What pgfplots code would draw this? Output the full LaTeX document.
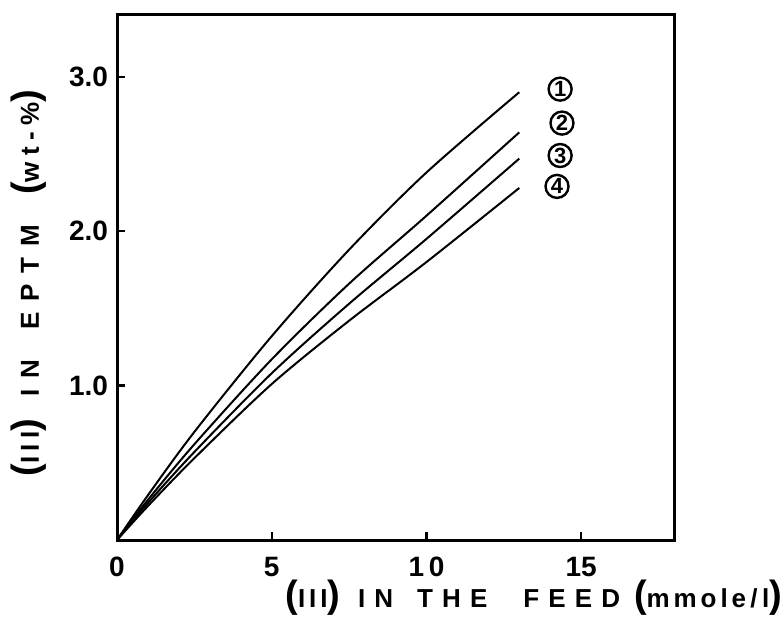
\documentclass[border=0pt]{standalone}
\usepackage{fontspec}
\setmainfont{Liberation Sans}
\usepackage{pgfplots}
\pgfplotsset{compat=1.18}
\begin{document}
\begin{tikzpicture}
\begin{axis}[
  scale only axis,
  width=278.5pt, height=262.5pt,
  xmin=0, xmax=18, ymin=0, ymax=3.4,
  axis line style={line width=1.5pt},
  xtick={0,5,10,15}, ytick={1,2,3},
  xticklabels={0,5,1\,0,15},
  yticklabels={1.0,2.0,3.0},
  tick align=inside,
  xtick pos=bottom, ytick pos=left,
  major tick length=4pt,
  tick style={line width=1.2pt, black},
  ticklabel style={font=\fontsize{14}{14}\selectfont\bfseries},
  xticklabel style={yshift=-5pt},
  yticklabel style={xshift=-1pt},
  xlabel={{\fontsize{19}{19}\selectfont(}{\addfontfeatures{LetterSpace=15}III}{\fontsize{19}{19}\selectfont)}\hspace{9pt}{\addfontfeatures{LetterSpace=35}IN}\hspace{12pt}{\addfontfeatures{LetterSpace=35}THE}\hspace{18pt}{\addfontfeatures{LetterSpace=35}FEED}\hspace{7pt}{\fontsize{19}{19}\selectfont(}{\addfontfeatures{LetterSpace=15}mmole\,/\,l}{\fontsize{19}{19}\selectfont)}},
  xlabel style={font=\fontsize{13}{13}\selectfont\bfseries, at={(axis description cs:0.748,0)}, anchor=center, yshift=-29pt, inner sep=0pt},
  ylabel={{\fontsize{19}{19}\selectfont(}{\addfontfeatures{LetterSpace=20}III}{\fontsize{19}{19}\selectfont)}\hspace{11pt}{\addfontfeatures{LetterSpace=42}IN}\hspace{15pt}{\addfontfeatures{LetterSpace=42}EPTM}\hspace{15pt}{\fontsize{19}{19}\selectfont(}{\addfontfeatures{LetterSpace=25}wt-\%}{\fontsize{19}{19}\selectfont)}},
  ylabel style={font=\fontsize{13}{13}\selectfont\bfseries, at={(axis description cs:0,0.49)}, anchor=center, yshift=44pt, inner sep=0pt},
  cycle list={{black}},
  every axis plot/.append style={line width=1pt, black, no markers, smooth},
  clip=false,
]
\addplot coordinates {(0,0) (1,0.29) (2.5,0.70) (5,1.32) (7.5,1.88) (10,2.38) (13,2.90)};
\addplot coordinates {(0,0) (1,0.26) (2.5,0.62) (5,1.17) (7.5,1.66) (10,2.10) (13,2.64)};
\addplot coordinates {(0,0) (1,0.24) (2.5,0.57) (5,1.08) (7.5,1.53) (10,1.95) (13,2.47)};
\addplot coordinates {(0,0) (1,0.22) (2.5,0.53) (5,1.01) (7.5,1.42) (10,1.80) (13,2.28)};
\tikzset{circnum/.style={circle, draw, line width=1.2pt, minimum size=11.5pt, inner sep=0pt, font=\fontsize{11}{11}\selectfont\bfseries}}
\node[circnum] at (axis cs:14.32,2.92) {1};
\node[circnum] at (axis cs:14.38,2.70) {2};
\node[circnum] at (axis cs:14.32,2.49) {3};
\node[circnum] at (axis cs:14.22,2.29) {4};
\end{axis}
\pgfresetboundingbox
\path[use as bounding box] ([shift={(-58.5pt,-40pt)}]current axis.south west) rectangle ([shift={(55pt,7.5pt)}]current axis.north east);
\end{tikzpicture}
\end{document}
